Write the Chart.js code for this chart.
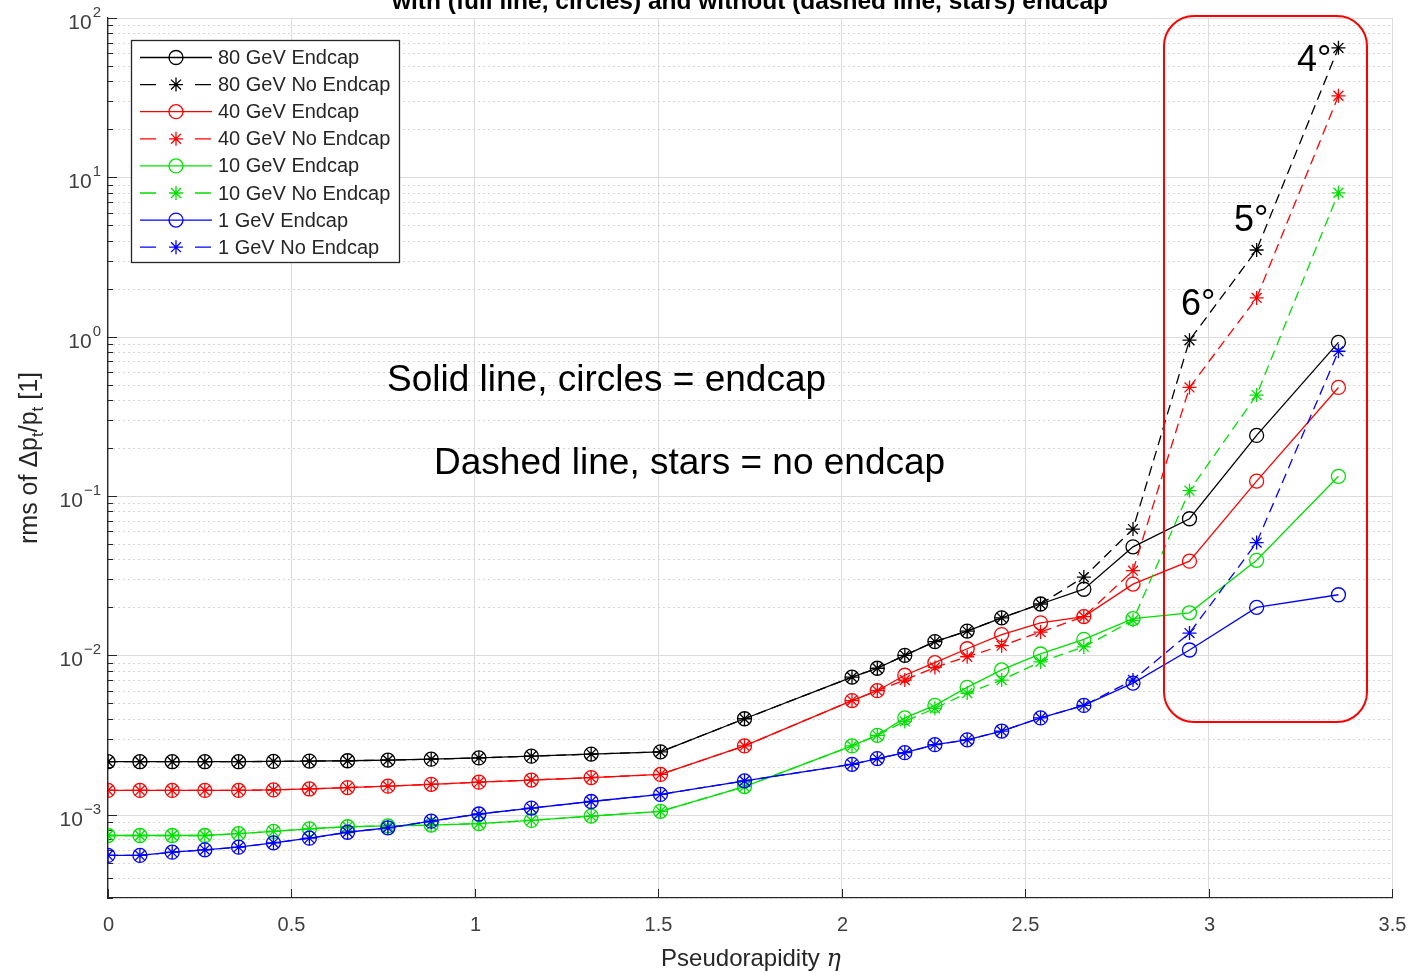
<!DOCTYPE html>
<html><head><meta charset="utf-8">
<script src="https://cdn.jsdelivr.net/npm/chart.js@4.4.0/dist/chart.umd.min.js"></script>
<style>html,body{margin:0;padding:0;background:#fff;}#wrap{position:relative;width:1412px;height:972px;}</style>
</head><body><div id="wrap"><canvas id="c" width="1412" height="972"></canvas></div>
<script>
// Pseudorapidity values (polar angles 90°..15°, then 14°..4°)
const eta = [0, 0.087, 0.175, 0.264, 0.356, 0.451, 0.549, 0.653, 0.763, 0.881, 1.011, 1.154, 1.317, 1.506, 1.735, 2.028, 2.097, 2.172, 2.254, 2.342, 2.436, 2.542, 2.660, 2.794, 2.948, 3.131, 3.354];

const gev80Endcap   = [2.15e-3, 2.15e-3, 2.15e-3, 2.15e-3, 2.15e-3, 2.16e-3, 2.17e-3, 2.18e-3, 2.20e-3, 2.23e-3, 2.27e-3, 2.33e-3, 2.40e-3, 2.48e-3, 4.0e-3, 7.3e-3, 8.3e-3, 1.0e-2, 1.22e-2, 1.42e-2, 1.72e-2, 2.1e-2, 2.6e-2, 4.8e-2, 7.2e-2, 0.24, 0.92];
const gev80NoEndcap = [2.15e-3, 2.15e-3, 2.15e-3, 2.15e-3, 2.15e-3, 2.16e-3, 2.17e-3, 2.18e-3, 2.20e-3, 2.23e-3, 2.27e-3, 2.33e-3, 2.40e-3, 2.48e-3, 4.0e-3, 7.3e-3, 8.3e-3, 1.0e-2, 1.22e-2, 1.42e-2, 1.72e-2, 2.1e-2, 3.1e-2, 6.2e-2, 0.95, 3.5, 65];
const gev40Endcap   = [1.42e-3, 1.42e-3, 1.42e-3, 1.42e-3, 1.42e-3, 1.43e-3, 1.45e-3, 1.48e-3, 1.51e-3, 1.55e-3, 1.60e-3, 1.65e-3, 1.71e-3, 1.79e-3, 2.7e-3, 5.2e-3, 6.0e-3, 7.5e-3, 9.0e-3, 1.1e-2, 1.35e-2, 1.6e-2, 1.75e-2, 2.8e-2, 3.9e-2, 0.124, 0.48];
const gev40NoEndcap = [1.42e-3, 1.42e-3, 1.42e-3, 1.42e-3, 1.42e-3, 1.43e-3, 1.45e-3, 1.48e-3, 1.51e-3, 1.55e-3, 1.60e-3, 1.65e-3, 1.71e-3, 1.79e-3, 2.7e-3, 5.2e-3, 6.0e-3, 7.0e-3, 8.4e-3, 9.8e-3, 1.15e-2, 1.4e-2, 1.75e-2, 3.4e-2, 0.48, 1.75, 32.5];
const gev10Endcap   = [7.4e-4, 7.4e-4, 7.4e-4, 7.4e-4, 7.6e-4, 7.85e-4, 8.15e-4, 8.4e-4, 8.5e-4, 8.6e-4, 8.8e-4, 9.2e-4, 9.8e-4, 1.05e-3, 1.5e-3, 2.7e-3, 3.15e-3, 4.05e-3, 4.85e-3, 6.3e-3, 8.1e-3, 1.02e-2, 1.26e-2, 1.7e-2, 1.85e-2, 3.95e-2, 0.133];
const gev10NoEndcap = [7.4e-4, 7.4e-4, 7.4e-4, 7.4e-4, 7.6e-4, 7.85e-4, 8.15e-4, 8.4e-4, 8.5e-4, 8.6e-4, 8.8e-4, 9.2e-4, 9.8e-4, 1.05e-3, 1.5e-3, 2.7e-3, 3.15e-3, 3.85e-3, 4.65e-3, 5.8e-3, 7.0e-3, 9.1e-3, 1.13e-2, 1.66e-2, 0.108, 0.43, 8.0];
const gev1Endcap    = [5.55e-4, 5.55e-4, 5.82e-4, 6.02e-4, 6.25e-4, 6.66e-4, 7.12e-4, 7.76e-4, 8.27e-4, 9.1e-4, 1.01e-3, 1.10e-3, 1.21e-3, 1.34e-3, 1.63e-3, 2.07e-3, 2.25e-3, 2.45e-3, 2.75e-3, 2.95e-3, 3.35e-3, 4.05e-3, 4.85e-3, 6.7e-3, 1.08e-2, 2.0e-2, 2.4e-2];
const gev1NoEndcap  = [5.55e-4, 5.55e-4, 5.82e-4, 6.02e-4, 6.25e-4, 6.66e-4, 7.12e-4, 7.76e-4, 8.27e-4, 9.1e-4, 1.01e-3, 1.10e-3, 1.21e-3, 1.34e-3, 1.63e-3, 2.07e-3, 2.25e-3, 2.45e-3, 2.75e-3, 2.95e-3, 3.35e-3, 4.05e-3, 4.85e-3, 7.0e-3, 1.38e-2, 5.1e-2, 0.81];

const seriesLabels = ['80 GeV Endcap', '80 GeV No Endcap', '40 GeV Endcap', '40 GeV No Endcap', '10 GeV Endcap', '10 GeV No Endcap', '1 GeV Endcap', '1 GeV No Endcap'];
const seriesValues = [gev80Endcap, gev80NoEndcap, gev40Endcap, gev40NoEndcap, gev10Endcap, gev10NoEndcap, gev1Endcap, gev1NoEndcap];
const seriesColors = ['#000000', '#000000', '#ff0000', '#ff0000', '#00e000', '#00e000', '#0000ff', '#0000ff'];

const xTickLabels = ['0', '0.5', '1', '1.5', '2', '2.5', '3', '3.5'];
const xTickValues = [0, 0.5, 1, 1.5, 2, 2.5, 3, 3.5];
const yTickExponents = ['2', '1', '0', '-1', '-2', '-3'];

const titleText = 'with (full line, circles) and without (dashed line, stars) endcap';
const noteLines = ['Solid line, circles = endcap', 'Dashed line, stars = no endcap'];
const angleLabels = ['6°', '5°', '4°'];

const FONT = '"Liberation Sans", Arial, Helvetica, sans-serif';

const datasets = seriesLabels.map((label, k) => {
  const dashed = k % 2 === 1;
  return {
    label,
    data: eta.map((x, i) => ({x, y: seriesValues[k][i]})),
    borderColor: seriesColors[k],
    backgroundColor: 'rgba(0,0,0,0)',
    borderWidth: 1.3,
    borderDash: dashed ? [10, 6] : [],
    pointStyle: dashed ? 'star' : 'circle',
    pointRadius: 7,
    pointHoverRadius: 7,
    pointBorderColor: seriesColors[k],
    pointBackgroundColor: 'rgba(0,0,0,0)',
    pointBorderWidth: 1.3,
    tension: 0,
    fill: false,
    order: 8 - k
  };
});

function roundRectPath(ctx, x, y, w, h, r) {
  ctx.beginPath();
  ctx.moveTo(x + r, y);
  ctx.lineTo(x + w - r, y);
  ctx.arcTo(x + w, y, x + w, y + r, r);
  ctx.lineTo(x + w, y + h - r);
  ctx.arcTo(x + w, y + h, x + w - r, y + h, r);
  ctx.lineTo(x + r, y + h);
  ctx.arcTo(x, y + h, x, y + h - r, r);
  ctx.lineTo(x, y + r);
  ctx.arcTo(x, y, x + r, y, r);
  ctx.closePath();
}

function drawMarker(ctx, style, cx, cy, r, color) {
  ctx.save();
  ctx.strokeStyle = color; ctx.lineWidth = 1.3; ctx.setLineDash([]);
  ctx.beginPath();
  if (style === 'circle') {
    ctx.arc(cx, cy, r, 0, Math.PI * 2);
  } else {
    for (let a = 0; a < 4; a++) {
      const ang = a * Math.PI / 4;
      ctx.moveTo(cx - r * Math.cos(ang), cy - r * Math.sin(ang));
      ctx.lineTo(cx + r * Math.cos(ang), cy + r * Math.sin(ang));
    }
  }
  ctx.stroke();
  ctx.restore();
}

const gridPlugin = {
  id: 'logGrid',
  beforeDatasetsDraw(chart) {
    const {ctx, chartArea: a, scales: {y}} = chart;
    ctx.save();
    for (let d = -4; d <= 2; d++) {
      for (let m = 1; m <= 9; m++) {
        const v = m * Math.pow(10, d);
        if (v < y.min * 0.999 || v > y.max * 1.001) continue;
        const py = Math.round(y.getPixelForValue(v)) + 0.5;
        ctx.beginPath();
        if (m === 1) { ctx.setLineDash([]); ctx.strokeStyle = '#dcdcdc'; }
        else { ctx.setLineDash([2, 3]); ctx.strokeStyle = '#d6d6d6'; }
        ctx.lineWidth = 1;
        ctx.moveTo(a.left, py); ctx.lineTo(a.right, py); ctx.stroke();
        ctx.setLineDash([]); ctx.strokeStyle = '#262626';
        ctx.beginPath();
        ctx.moveTo(a.left, py); ctx.lineTo(a.left + (m === 1 ? 9 : 5), py); ctx.stroke();
      }
    }
    ctx.restore();
  },
  afterDraw(chart) {
    const {ctx, chartArea: a, scales: {x, y}} = chart;
    ctx.save();
    // bottom axis inward ticks + labels
    ctx.strokeStyle = '#262626'; ctx.lineWidth = 1;
    ctx.fillStyle = '#404040';
    ctx.font = '20px ' + FONT;
    ctx.textAlign = 'center'; ctx.textBaseline = 'alphabetic';
    xTickValues.forEach((v, i) => {
      const px = Math.round(x.getPixelForValue(v)) + 0.5;
      ctx.beginPath(); ctx.moveTo(px, a.bottom); ctx.lineTo(px, a.bottom - 9); ctx.stroke();
      ctx.fillText(xTickLabels[i], px, a.bottom + 33);
    });
    // left axis labels 10^n
    yTickExponents.forEach(e => {
      const py = y.getPixelForValue(Math.pow(10, +e));
      const es = e.replace('-', '\u2212');
      const expFont = '15px ' + FONT;
      ctx.font = expFont;
      const ew = ctx.measureText(es).width;
      const right = a.left - 7;
      ctx.font = '21px ' + FONT;
      ctx.textAlign = 'right';
      ctx.fillText('10', right - ew - 1, py + 11);
      ctx.font = expFont; ctx.textAlign = 'left';
      ctx.fillText(es, right - ew, py - 1);
    });
    // x axis title
    ctx.fillStyle = '#262626';
    ctx.textAlign = 'left';
    const t1 = 'Pseudorapidity ';
    const serif = 'italic 24px "DejaVu Serif", "Liberation Serif", serif';
    ctx.font = '24px ' + FONT;
    const w1 = ctx.measureText(t1).width;
    ctx.font = serif;
    const w2 = ctx.measureText('η').width;
    const sx = 751 - (w1 + w2) / 2;
    ctx.font = '24px ' + FONT;
    ctx.fillText(t1, sx, 966);
    ctx.font = serif;
    ctx.fillText('η', sx + w1, 966);
    // y axis title (rotated)
    ctx.save();
    ctx.translate(37, 458);
    ctx.rotate(-Math.PI / 2);
    const parts = [['rms of \u0394p', 0], ['t', 1], ['/p', 0], ['t', 1], [' [1]', 0]];
    let tot = 0;
    parts.forEach(p => { ctx.font = (p[1] ? '17px ' : '25px ') + FONT; tot += ctx.measureText(p[0]).width; });
    let cx = -tot / 2;
    ctx.textAlign = 'left';
    parts.forEach(p => {
      ctx.font = (p[1] ? '17px ' : '25px ') + FONT;
      ctx.fillText(p[0], cx, p[1] ? 6 : 0);
      cx += ctx.measureText(p[0]).width;
    });
    ctx.restore();
    // clipped title
    ctx.fillStyle = '#000';
    ctx.font = 'bold 24.5px ' + FONT;
    ctx.textAlign = 'center';
    ctx.fillText(titleText, 750, 9);
    // annotations
    ctx.font = '37px ' + FONT;
    ctx.textAlign = 'left';
    ctx.fillText(noteLines[0], 387, 391);
    ctx.fillText(noteLines[1], 434, 474);
    ctx.font = '36px ' + FONT;
    ctx.fillText(angleLabels[0], 1181, 315);
    ctx.fillText(angleLabels[1], 1234, 231);
    ctx.fillText(angleLabels[2], 1297, 71);
    // red rounded box
    ctx.strokeStyle = '#ff0000'; ctx.lineWidth = 2; ctx.setLineDash([]);
    roundRectPath(ctx, 1164, 16, 203, 706, 30);
    ctx.stroke();
    // legend
    const lx = 131, ly = 40, lw = 268, lh = 222;
    ctx.fillStyle = '#ffffff';
    ctx.fillRect(lx, ly, lw, lh);
    ctx.strokeStyle = '#262626'; ctx.lineWidth = 1.3;
    ctx.strokeRect(lx + 0.5, ly + 0.5, lw, lh);
    chart.data.datasets.forEach((ds, i) => {
      const ry = ly + 17.5 + i * 27.1;
      const dashed = i % 2 === 1;
      ctx.strokeStyle = ds.borderColor; ctx.lineWidth = 1.3; ctx.setLineDash([]);
      ctx.beginPath();
      if (dashed) {
        ctx.moveTo(140, ry); ctx.lineTo(156, ry);
        ctx.moveTo(195, ry); ctx.lineTo(211, ry);
      } else {
        ctx.moveTo(140, ry); ctx.lineTo(212, ry);
      }
      ctx.stroke();
      drawMarker(ctx, dashed ? 'star' : 'circle', 176, ry, 7, ds.borderColor);
      ctx.fillStyle = '#262626';
      ctx.font = '20px ' + FONT;
      ctx.textAlign = 'left'; ctx.textBaseline = 'middle';
      ctx.fillText(ds.label, 218, ry + 1);
    });
    ctx.restore();
  }
};

new Chart(document.getElementById('c'), {
  type: 'line',
  data: {datasets},
  options: {
    responsive: false,
    animation: false,
    devicePixelRatio: 1,
    layout: {padding: {left: 108, top: 18, right: 20, bottom: 74}},
    plugins: {legend: {display: false}, tooltip: {enabled: false}},
    scales: {
      x: {
        type: 'linear', min: 0, max: 3.5,
        ticks: {display: false, stepSize: 0.5},
        grid: {display: true, color: '#dcdcdc', lineWidth: 1, drawTicks: false},
        border: {display: true, color: '#262626', width: 1.3}
      },
      y: {
        type: 'logarithmic', min: Math.pow(10, -3.5), max: 100,
        ticks: {display: false},
        grid: {display: false, drawTicks: false},
        border: {display: true, color: '#262626', width: 1.3}
      }
    }
  },
  plugins: [gridPlugin]
});
</script>
</body></html>
